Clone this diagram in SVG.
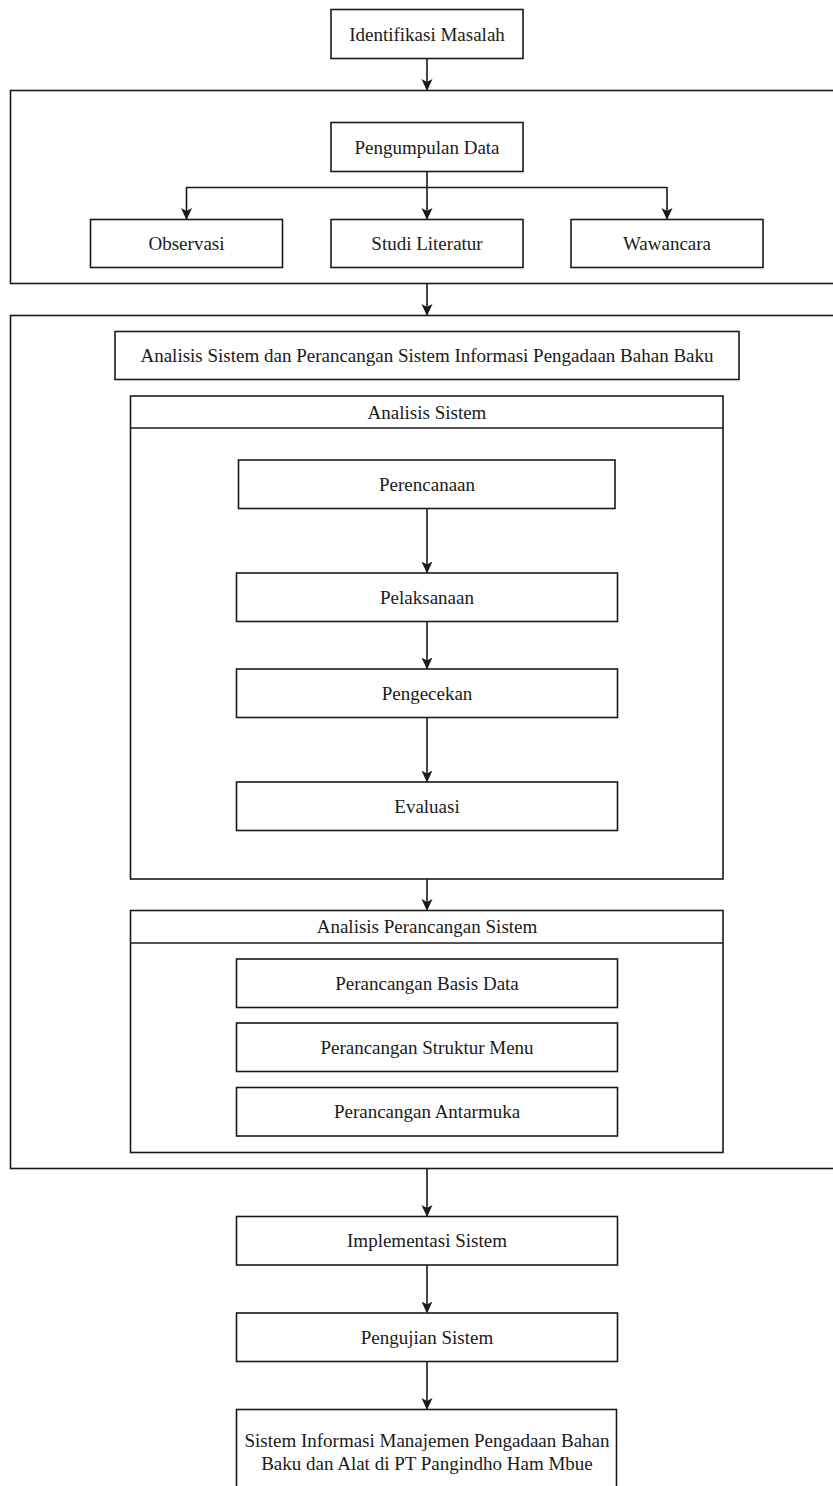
<svg xmlns="http://www.w3.org/2000/svg" width="833" height="1486" viewBox="0 0 833 1486" font-family="'Liberation Serif', 'Times New Roman', 'DejaVu Serif', serif">
<defs>
<style>
rect{fill:#fff;stroke:#1a1a1a;stroke-width:1.6}
.c rect{fill:none}
text{font-family:'Liberation Serif','Times New Roman','DejaVu Serif',serif;font-size:19px;fill:#1a1a1a;text-anchor:middle;dominant-baseline:central}
.e{fill:none;stroke:#1a1a1a;stroke-width:1.6}
line.h{stroke:#1a1a1a;stroke-width:1.6}
</style>
<marker id="ar" viewBox="0 0 12 12" refX="11" refY="6" markerWidth="12" markerHeight="12" markerUnits="userSpaceOnUse" orient="auto">
<path d="M0,0.5 L12,6 L0,11.5 L3,6 Z" fill="#1a1a1a"/>
</marker>
</defs>
<g id="containers" class="c">
<g id="box-pengumpulan"><rect x="10.5" y="90.5" width="830" height="193"/></g>
<g id="box-analisis"><rect x="10.5" y="315.5" width="830" height="853"/></g>
<g id="analisis-sistem"><rect x="130.5" y="396" width="592.5" height="483"/><line class="h" x1="130.5" y1="428" x2="723" y2="428"/><text x="427" y="412" font-family="Liberation Serif, serif">Analisis Sistem</text></g>
<g id="analisis-perancangan"><rect x="130.5" y="910.5" width="592.5" height="242"/><line class="h" x1="130.5" y1="943" x2="723" y2="943"/><text x="427" y="926.5">Analisis Perancangan Sistem</text></g>
</g>
<g id="n-identifikasi"><rect x="331" y="9.5" width="192" height="49"/><text x="427" y="34">Identifikasi Masalah</text></g>
<g id="n-pengumpulan"><rect x="331" y="122.5" width="192" height="49"/><text x="427" y="147">Pengumpulan Data</text></g>
<g id="n-observasi"><rect x="90.5" y="219.5" width="192" height="48"/><text x="186.5" y="243.5">Observasi</text></g>
<g id="n-studi"><rect x="331" y="219.5" width="192" height="48"/><text x="427" y="243.5">Studi Literatur</text></g>
<g id="n-wawancara"><rect x="571" y="219.5" width="192" height="48"/><text x="667" y="243.5">Wawancara</text></g>
<g id="n-judul"><rect x="115" y="331.5" width="624" height="48"/><text x="427" y="355.5">Analisis Sistem dan Perancangan Sistem Informasi Pengadaan Bahan Baku</text></g>
<g id="n-perencanaan"><rect x="238.5" y="460" width="376.5" height="48.5"/><text x="427" y="484">Perencanaan</text></g>
<g id="n-pelaksanaan"><rect x="236.5" y="573" width="381" height="48.5"/><text x="427" y="597">Pelaksanaan</text></g>
<g id="n-pengecekan"><rect x="236.5" y="669" width="381" height="48.5"/><text x="427" y="693">Pengecekan</text></g>
<g id="n-evaluasi"><rect x="236.5" y="782" width="381" height="48.5"/><text x="427" y="806">Evaluasi</text></g>
<g id="n-basisdata"><rect x="236.5" y="959" width="381" height="48.5"/><text x="427" y="983">Perancangan Basis Data</text></g>
<g id="n-struktur"><rect x="236.5" y="1023" width="381" height="48.5"/><text x="427" y="1047">Perancangan Struktur Menu</text></g>
<g id="n-antarmuka"><rect x="236.5" y="1087.5" width="381" height="48.5"/><text x="427" y="1111.5">Perancangan Antarmuka</text></g>
<g id="n-implementasi"><rect x="236.5" y="1216.5" width="381" height="48.5"/><text x="427" y="1240.5">Implementasi Sistem</text></g>
<g id="n-pengujian"><rect x="236.5" y="1313" width="381" height="48.5"/><text x="427" y="1337">Pengujian Sistem</text></g>
<g id="n-hasil"><rect x="236.5" y="1409.5" width="380" height="100"/><text x="427" y="1440">Sistem Informasi Manajemen Pengadaan Bahan</text><text x="427" y="1463">Baku dan Alat di PT Pangindho Ham Mbue</text></g>
<g id="connectors">
<path class="e" d="M427,58.5 V90" marker-end="url(#ar)"/>
<path class="e" d="M427,171.5 V219" marker-end="url(#ar)"/>
<path class="e" d="M427,187.5 H186.5 V219" marker-end="url(#ar)"/>
<path class="e" d="M427,187.5 H667 V219" marker-end="url(#ar)"/>
<path class="e" d="M427,283.5 V315" marker-end="url(#ar)"/>
<path class="e" d="M427,508.5 V572.5" marker-end="url(#ar)"/>
<path class="e" d="M427,621.5 V668.5" marker-end="url(#ar)"/>
<path class="e" d="M427,717.5 V781.5" marker-end="url(#ar)"/>
<path class="e" d="M427,879 V910" marker-end="url(#ar)"/>
<path class="e" d="M427,1168.5 V1216" marker-end="url(#ar)"/>
<path class="e" d="M427,1265 V1312.5" marker-end="url(#ar)"/>
<path class="e" d="M427,1361.5 V1409" marker-end="url(#ar)"/>
</g>
</svg>
